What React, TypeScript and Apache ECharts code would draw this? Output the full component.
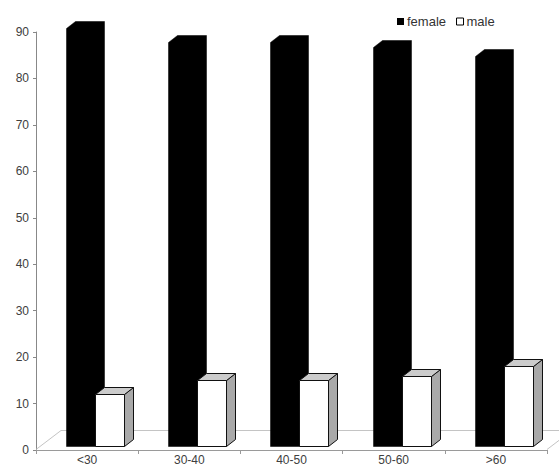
import React, { useEffect, useRef } from 'react';
import * as echarts from 'echarts';

const categories = ['<30', '30-40', '40-50', '50-60', '>60'];
const femaleValues = [89, 86, 86, 85, 83];
const maleValues = [11, 14, 14, 15, 17];
const seriesNames = ['female', 'male'];

const FONT = '"Liberation Sans", Arial, sans-serif';

export default function App() {
  const ref = useRef<HTMLDivElement>(null);

  useEffect(() => {
    if (!ref.current) return;
    const chart = echarts.init(ref.current, null, { renderer: 'svg' });

    const DX = 9;
    const DY = -7;

    const makeBar = (kind: 'female' | 'male') => (params: any, api: any) => {
      const idx = api.value(0);
      const val = api.value(1);
      const top = api.coord([idx, val]);
      const base = api.coord([idx, 0]);
      const bw = api.size([1, 0])[0];
      const cx = top[0];
      const w = Math.round(0.284 * bw);
      const x0 = Math.round(cx + (kind === 'female' ? -0.206 : 0.078) * bw) + 0.5;
      const yT = Math.round(top[1]) + 0.5;
      const yB = Math.round(base[1]) + 0.5;
      if (kind === 'female') {
        return {
          type: 'polygon',
          shape: {
            points: [
              [x0, yB],
              [x0, yT],
              [x0 + DX, yT + DY],
              [x0 + w + DX, yT + DY],
              [x0 + w + DX, yB + DY],
              [x0 + w, yB],
            ],
          },
          style: { fill: '#000000', stroke: '#000000', lineWidth: 0.5 },
        };
      }
      const stroke = { stroke: '#111111', lineWidth: 1, lineJoin: 'round' };
      return {
        type: 'group',
        children: [
          {
            type: 'polygon',
            shape: {
              points: [
                [x0 + w, yT],
                [x0 + w + DX, yT + DY],
                [x0 + w + DX, yB + DY],
                [x0 + w, yB],
              ],
            },
            style: { fill: '#a9a9a9', ...stroke },
          },
          {
            type: 'polygon',
            shape: {
              points: [
                [x0, yT],
                [x0 + DX, yT + DY],
                [x0 + w + DX, yT + DY],
                [x0 + w, yT],
              ],
            },
            style: { fill: '#cccccc', ...stroke },
          },
          {
            type: 'rect',
            shape: { x: x0, y: yT, width: w, height: yB - yT },
            style: { fill: '#ffffff', ...stroke },
          },
        ],
      };
    };

    const floorRender = (params: any, api: any) => {
      const cs = params.coordSys;
      const y0 = Math.round(api.coord([0, 0])[1]) - 0.5;
      const xL = cs.x;
      const xR = cs.x + cs.width;
      const fx = 25;
      const fy = -19;
      const st = { stroke: '#c4c4c4', lineWidth: 1, fill: 'none' };
      return {
        type: 'group',
        children: [
          { type: 'polyline', shape: { points: [[xL, y0], [xL + fx, y0 + fy], [xR + fx, y0 + fy]] }, style: st },
          { type: 'line', shape: { x1: xR, y1: y0, x2: xR + fx, y2: y0 + fy }, style: st },
        ],
      };
    };

    chart.setOption({
      animation: false,
      backgroundColor: '#ffffff',
      legend: {
        data: [
          { name: 'female', itemStyle: { color: '#000000', borderColor: '#000000', borderWidth: 0 } },
          { name: 'male', itemStyle: { color: '#ffffff', borderColor: '#000000', borderWidth: 1 } },
        ],
        left: 397,
        top: 15,
        padding: 0,
        itemWidth: 7,
        itemHeight: 7,
        itemGap: 10,
        icon: 'rect',
        textStyle: { fontFamily: FONT, fontSize: 13, color: '#333333', padding: [0, 0, 0, -2] },
        selectedMode: false,
      },
      grid: [
        { left: 36, right: 12, top: 32, bottom: 18, outerBoundsMode: 'none', containLabel: false },
        { left: 36, right: 12, top: 23, bottom: 22, outerBoundsMode: 'none', containLabel: false },
      ],
      xAxis: [
        {
          type: 'category',
          gridIndex: 0,
          data: categories,
          boundaryGap: true,
          axisLine: { show: true, lineStyle: { color: '#9a9a9a', width: 1 } },
          axisTick: { show: true, length: 4, lineStyle: { color: '#9a9a9a' } },
          axisLabel: { fontFamily: FONT, fontSize: 12, color: '#404040', margin: 4 },
          splitLine: { show: false },
        },
        {
          type: 'category',
          gridIndex: 1,
          data: categories,
          show: false,
        },
      ],
      yAxis: [
        {
          type: 'value',
          gridIndex: 0,
          min: 0,
          max: 90,
          interval: 10,
          axisLine: { show: true, lineStyle: { color: '#888888', width: 1 } },
          axisTick: { show: true, length: 3, lineStyle: { color: '#888888' } },
          axisLabel: { fontFamily: FONT, fontSize: 12, color: '#404040', margin: 7 },
          splitLine: { show: false },
        },
        {
          type: 'value',
          gridIndex: 1,
          min: 0,
          max: 90,
          show: false,
        },
      ],
      series: [
        {
          name: 'floor',
          type: 'custom',
          xAxisIndex: 0,
          yAxisIndex: 0,
          silent: true,
          clip: false,
          z: 1,
          renderItem: floorRender,
          data: [[0, 0]],
        },
        {
          name: seriesNames[0],
          type: 'custom',
          xAxisIndex: 1,
          yAxisIndex: 1,
          clip: false,
          z: 2,
          itemStyle: { color: '#000000' },
          renderItem: makeBar('female'),
          data: femaleValues.map((v, i) => [i, v]),
        },
        {
          name: seriesNames[1],
          type: 'custom',
          xAxisIndex: 1,
          yAxisIndex: 1,
          clip: false,
          z: 3,
          itemStyle: { color: '#ffffff', borderColor: '#000000' },
          renderItem: makeBar('male'),
          data: maleValues.map((v, i) => [i, v]),
        },
      ],
    });

    return () => chart.dispose();
  }, []);

  return (
    <div
      ref={ref}
      style={{ position: 'fixed', left: 0, top: 0, width: 559, height: 468, background: '#fff' }}
    />
  );
}
